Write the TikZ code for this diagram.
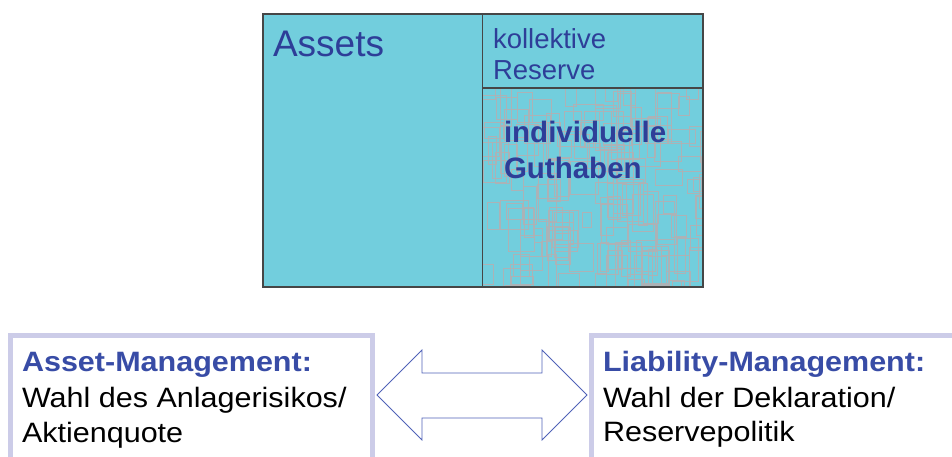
\documentclass[tikz,border=0pt]{standalone}
\usepackage{fontspec}
\setmainfont{Liberation Sans}
\definecolor{cyanfill}{RGB}{114,206,221}
\definecolor{txtblue}{RGB}{46,62,152}
\definecolor{hdblue}{RGB}{56,76,166}
\definecolor{lav}{RGB}{204,204,232}
\definecolor{arrowblue}{RGB}{80,98,184}
\definecolor{framegray}{RGB}{70,70,70}
\definecolor{texgray}{RGB}{172,178,182}
\begin{document}
\begin{tikzpicture}[x=1pt,y=-1pt,
  lbl/.style={anchor=base west,inner sep=0pt,outer sep=0pt},
  topblue/.style={lbl,text=txtblue},
  headblue/.style={lbl,text=hdblue,font=\fontsize{28}{34}\selectfont\bfseries},
  bodytxt/.style={lbl,text=black,font=\fontsize{28}{34}\selectfont},
  lavbox/.style={draw=lav,line width=5pt},
  dblarrow/.style={draw=arrowblue,line width=0.8pt,fill=white,line join=miter}
]
\useasboundingbox (0,0) rectangle (952,456);
\clip (0,0) rectangle (952,456);

% balance sheet block
\fill[cyanfill] (263,14) rectangle (703,287);
\begin{scope}
  \clip (483,88) rectangle (703,287);
  \pgfmathsetseed{11}
  \foreach \i in {1,...,150} {
    \pgfmathsetmacro\rx{478+rnd*228}
    \pgfmathsetmacro\ry{82+rnd*208}
    \pgfmathsetmacro\rw{8+rnd*22}
    \pgfmathsetmacro\rh{14+rnd*34}
    \draw[texgray,line width=0.4pt] (\rx,\ry) rectangle ++(\rw,\rh);
  }
\end{scope}
\draw[framegray,line width=1.4pt] (263,14) rectangle (703,287);
\draw[framegray,line width=1.4pt] (482.5,14) -- (482.5,287);
\draw[framegray,line width=1.4pt] (482.5,88) -- (703,88);

\node[topblue,font=\fontsize{37}{44}\selectfont] (assets) at (273,56.5) {Assets};
\node[topblue,font=\fontsize{27.5}{33}\selectfont] (koll) at (493,48) {kollektive};
\node[topblue,font=\fontsize{27.5}{33}\selectfont] (res) at (493,79) {Reserve};
\node[topblue,font=\fontsize{29.5}{36}\selectfont\bfseries] (indiv) at (504,142.5) {individuelle};
\node[topblue,font=\fontsize{29.5}{36}\selectfont\bfseries] (guth) at (504,178.5) {Guthaben};

% bottom boxes
\draw[lavbox] (10.5,470) -- (10.5,335.5) -- (372.5,335.5) -- (372.5,470);
\draw[lavbox] (591.5,470) -- (591.5,335.5) -- (970,335.5);

\node[headblue] (amh) at (22,371.5) {\scalebox{1.09}[1]{Asset-Management:}};
\node[bodytxt] (am1) at (22,407.5) {\scalebox{1.09}[1]{Wahl des Anlagerisikos/}};
\node[bodytxt] (am2) at (22,442.5) {\scalebox{1.09}[1]{Aktienquote}};

\node[headblue] (lmh) at (603,371) {\scalebox{1.09}[1]{Liability-Management:}};
\node[bodytxt] (lm1) at (603,407) {\scalebox{1.09}[1]{Wahl der Deklaration/}};
\node[bodytxt] (lm2) at (603,441.5) {\scalebox{1.09}[1]{Reservepolitik}};

% double arrow
\coordinate (tipL) at (377,395);
\coordinate (tipR) at (587,395);
\draw[dblarrow] (tipL) -- (422,350) -- (422,373) -- (542,373) -- (542,350)
  -- (tipR) -- (542,440) -- (542,418) -- (422,418) -- (422,440) -- cycle;
\end{tikzpicture}
\end{document}
